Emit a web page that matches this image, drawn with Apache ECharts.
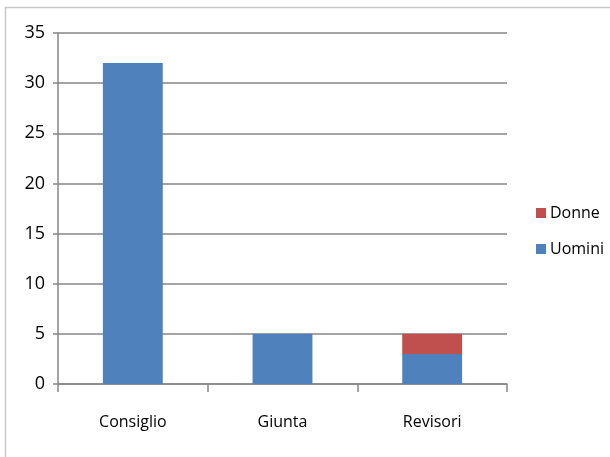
<!DOCTYPE html>
<html><head><meta charset="utf-8">
<script src="https://cdn.jsdelivr.net/npm/echarts@6/dist/echarts.min.js"></script>
<style>html,body{margin:0;padding:0;background:#fff}#c{width:610px;height:457px}</style>
</head><body><div id="c"></div>
<script>
var categories = ['Consiglio', 'Giunta', 'Revisori'];
var uomini = [32, 5, 3];
var donne = [0, 0, 2];
var FONT = "'Open Sans',sans-serif";
var chart = echarts.init(document.getElementById('c'), null, {renderer: 'canvas'});
chart.setOption({
  animation: false,
  backgroundColor: '#fff',
  graphic: [{type: 'rect', shape: {x: 5.5, y: 7.5, width: 700, height: 600}, style: {fill: 'none', stroke: '#c8c8c8', lineWidth: 1.5}, silent: true}],
  grid: {left: 58, top: 33, right: 103, bottom: 73},
  legend: {
    orient: 'vertical', left: 531, top: 200, itemGap: 20,
    itemWidth: 10, itemHeight: 10, icon: 'rect',
    data: ['Donne', 'Uomini'],
    textStyle: {fontFamily: FONT, fontSize: 16, color: '#000', padding: [0, 0, 0, -1]}
  },
  xAxis: {
    type: 'category', data: categories,
    axisLine: {lineStyle: {color: '#868686', width: 1.5}},
    axisTick: {show: true, length: 8, lineStyle: {color: '#868686', width: 1.5}},
    axisLabel: {fontFamily: FONT, fontSize: 16, color: '#000', margin: 30}
  },
  yAxis: {
    type: 'value', min: 0, max: 35, interval: 5,
    axisLine: {show: true, lineStyle: {color: '#868686', width: 1.5}},
    axisTick: {show: true, length: 5, lineStyle: {color: '#868686', width: 1.5}},
    splitLine: {lineStyle: {color: '#868686', width: 1.5}},
    axisLabel: {fontFamily: FONT, fontSize: 18, color: '#000', margin: 13}
  },
  series: [
    {name: 'Uomini', type: 'bar', stack: 's', data: uomini, barWidth: '40%', itemStyle: {color: '#4F81BD'}},
    {name: 'Donne', type: 'bar', stack: 's', data: donne, barWidth: '40%', itemStyle: {color: '#C0504D'}}
  ]
});
</script></body></html>
